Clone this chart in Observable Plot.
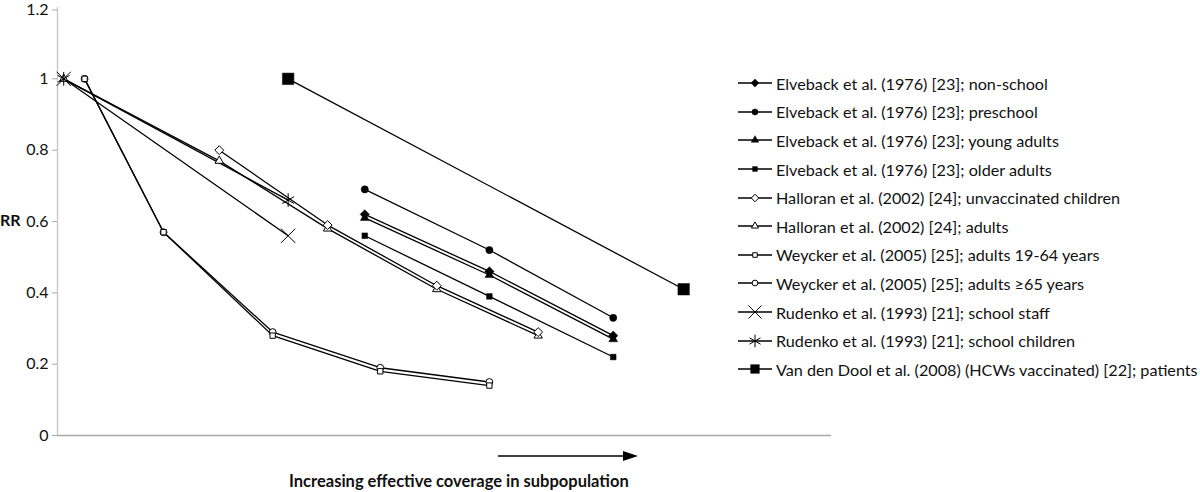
<!DOCTYPE html>
<html>
<head>
<meta charset="utf-8">
<script src="https://cdn.jsdelivr.net/npm/d3@7"></script>
<script src="https://cdn.jsdelivr.net/npm/@observablehq/plot@0.6"></script>
<style>
  html, body { margin: 0; padding: 0; background: #fff; }
  #wrap { position: relative; width: 1200px; height: 492px; overflow: hidden; font-family: Lato, "Open Sans", sans-serif; color: #111; }
  #chart { position: absolute; left: 0; top: 0; }
  #chart svg { overflow: visible; }
  .ylab { position: absolute; left: 0; top: 210px; font-weight: bold; font-size: 16px; }
  .xlab { position: absolute; left: 289px; top: 471px; font-weight: bold; font-size: 16.5px; white-space: nowrap; }
  #arrow { position: absolute; left: 495px; top: 448px; }
  #legend { position: absolute; left: 737px; top: 69px; }
  .row { display: flex; align-items: center; height: 28.6px; font-size: 16.2px; white-space: nowrap; }
  .row svg { margin-right: 3px; flex: none; }
</style>
</head>
<body>
<div id="wrap">
  <div id="chart"></div>
  <div class="ylab">RR</div>
  <div class="xlab">Increasing effective coverage in subpopulation</div>
  <svg id="arrow" width="150" height="16"><line x1="3" y1="8" x2="130" y2="8" stroke="#000" stroke-width="1.5"/><path d="M128,3 L143,8 L128,13 Z" fill="#000"/></svg>
  <div id="legend"></div>
</div>
<script>
// ---- Data (x = relative position along "increasing effective coverage", y = RR) ----
const seriesNames = [
  "Elveback et al. (1976) [23]; non-school",
  "Elveback et al. (1976) [23]; preschool",
  "Elveback et al. (1976) [23]; young adults",
  "Elveback et al. (1976) [23]; older adults",
  "Halloran et al. (2002) [24]; unvaccinated children",
  "Halloran et al. (2002) [24]; adults",
  "Weycker et al. (2005) [25]; adults 19-64 years",
  "Weycker et al. (2005) [25]; adults \u226565 years",
  "Rudenko et al. (1993) [21]; school staff",
  "Rudenko et al. (1993) [21]; school children",
  "Van den Dool et al. (2008) (HCWs vaccinated) [22]; patients"
];
const coverageElveback = [39.7, 55.8, 71.8];
const rrNonSchool = [0.62, 0.46, 0.28];
const rrPreschool = [0.69, 0.52, 0.33];
const rrYoungAdults = [0.61, 0.45, 0.27];
const rrOlderAdults = [0.56, 0.39, 0.22];
const coverageHalloranChildren = [20.9, 34.9, 49.0, 62.1];
const rrHalloranChildren = [0.80, 0.59, 0.42, 0.29];
const coverageHalloranAdults = [0.8, 20.9, 34.9, 49.0, 62.1];
const rrHalloranAdults = [1.0, 0.77, 0.58, 0.41, 0.28];
const coverageWeycker = [3.5, 13.7, 27.8, 41.7, 55.8];
const rrWeycker1964 = [1.0, 0.57, 0.28, 0.18, 0.14];
const rrWeycker65 = [1.0, 0.57, 0.29, 0.19, 0.15];
const coverageRudenko = [0.8, 29.8];
const rrRudenkoStaff = [1.0, 0.56];
const rrRudenkoChildren = [1.0, 0.66];
const coverageVanDenDool = [29.8, 80.9];
const rrVanDenDool = [1.0, 0.41];
const yTicks = [0, 0.2, 0.4, 0.6, 0.8, 1.0];
const yTopTick = [1.2];

// ---- Series specs ----
const xsList = [coverageElveback, coverageElveback, coverageElveback, coverageElveback,
  coverageHalloranChildren, coverageHalloranAdults, coverageWeycker, coverageWeycker,
  coverageRudenko, coverageRudenko, coverageVanDenDool];
const ysList = [rrNonSchool, rrPreschool, rrYoungAdults, rrOlderAdults,
  rrHalloranChildren, rrHalloranAdults, rrWeycker1964, rrWeycker65,
  rrRudenkoStaff, rrRudenkoChildren, rrVanDenDool];
const symbols = ["diamond2", "circle", "triangle2", "square2", "diamond2", "triangle2", "square2", "circle", "times", "asterisk", "square2"];
const filled = [true, true, true, true, false, false, false, false, false, false, true];
const radii = [4.2, 3.6, 4.2, 3.6, 4.0, 4.0, 3.4, 3.4, 6.5, 6.5, 7.3];
const dotOrder = [5, 4, 2, 0, 1, 3, 7, 6, 8, 9, 10];

const series = seriesNames.map((name, i) => ({
  name, symbol: symbols[i], filled: filled[i], r: radii[i],
  data: xsList[i].map((x, j) => ({x, y: ysList[i][j], name}))
}));
const fillOf = s => s.filled ? "#000" : (s.symbol === "times" || s.symbol === "asterisk" ? "none" : "#fff");
const fmt = d => String(+d.toFixed(1));

const marks = [
  Plot.ruleY([0], {stroke: "#a6a6a6", strokeWidth: 1.3}),
  Plot.ruleX([0], {stroke: "#c4c4c4", strokeWidth: 1.3}),
  Plot.axisY({ticks: yTicks, tickSize: 5, stroke: "#aaa", fill: "#111", fontSize: 16, tickPadding: 4,
    tickFormat: fmt, label: null}),
  Plot.axisY({ticks: yTopTick, tickSize: 5, stroke: "#aaa", fill: "#111", fontSize: 16, tickPadding: 4, dy: 2.5,
    tickFormat: fmt, label: null})
];
series.forEach(s => {
  marks.push(Plot.line(s.data, {x: "x", y: "y", stroke: "#000", strokeWidth: 1.3}));
});
dotOrder.forEach(i => {
  const s = series[i];
  marks.push(Plot.dot(s.data, {x: "x", y: "y", symbol: s.symbol, r: s.r,
    fill: fillOf(s), stroke: "#000", strokeWidth: s.filled ? 0.5 : 1}));
});

const chart = Plot.plot({
  width: 1200, height: 492,
  marginLeft: 57, marginRight: 369, marginTop: 7, marginBottom: 57,
  style: {fontFamily: "Lato, 'Open Sans', sans-serif", background: "#fff", fontSize: "16px", overflow: "visible"},
  x: {domain: [0, 100], axis: null},
  y: {domain: [0, 1.2], axis: null},
  marks
});
document.getElementById("chart").appendChild(chart);

// ---- Legend ----
const legend = d3.select("#legend");
const symbolMap = {circle: d3.symbolCircle, diamond2: d3.symbolDiamond2, triangle2: d3.symbolTriangle2,
  square2: d3.symbolSquare2, times: d3.symbolTimes, asterisk: d3.symbolAsterisk};
series.forEach(s => {
  const row = legend.append("div").attr("class", "row");
  const sv = row.append("svg").attr("width", 36).attr("height", 16);
  sv.append("line").attr("x1", 1).attr("x2", 35).attr("y1", 8).attr("y2", 8).attr("stroke", "#000").attr("stroke-width", 1.3);
  const rr = s.name.startsWith("Van") ? 5.5 : (s.symbol === "times" || s.symbol === "asterisk" ? 6 : s.r * 0.85);
  sv.append("path").attr("transform", "translate(18,8)")
    .attr("d", d3.symbol(symbolMap[s.symbol], Math.PI * rr * rr)())
    .attr("fill", fillOf(s))
    .attr("stroke", "#000").attr("stroke-width", s.filled ? 0.5 : 1);
  row.append("span").text(s.name);
});
</script>
</body>
</html>
